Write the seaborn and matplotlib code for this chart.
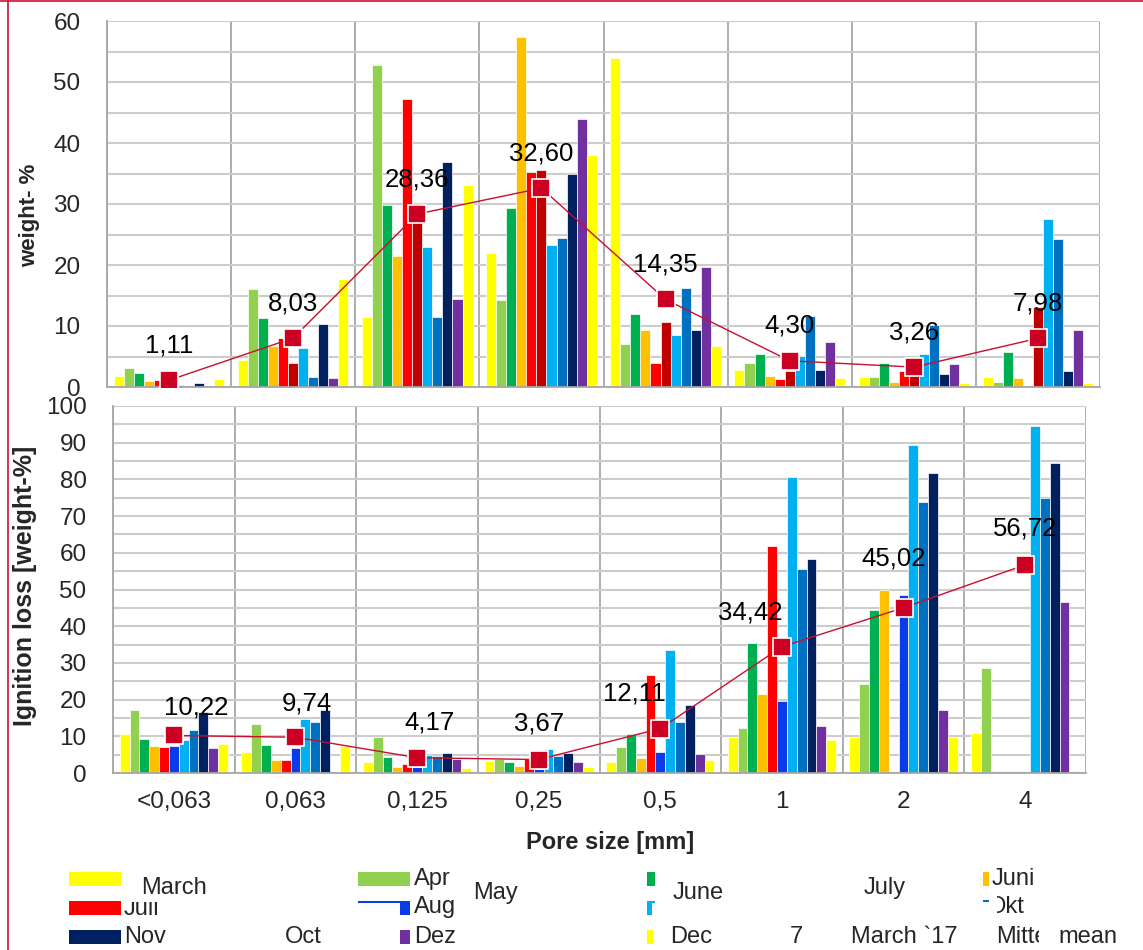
import numpy as np
import pandas as pd
import matplotlib
matplotlib.use("Agg")
import matplotlib.pyplot as plt
from matplotlib.patches import Rectangle
from matplotlib.lines import Line2D
from matplotlib.transforms import Bbox
import seaborn as sns

# ---------------------------------------------------------------- data
sizes = ["<0,063", "0,063", "0,125", "0,25", "0,5", "1", "2", "4"]
months = ["March", "Apr", "June", "Juni", "Juli", "Aug", "Sep", "Okt",
          "Nov", "Dez", "March `17"]

# weight-% per sieve fraction
w_march = [1.75, 4.4, 11.4, 22.0, 54.0, 2.8, 1.6, 1.6]
w_apr = [3.06, 16.1, 52.8, 14.3, 7.0, 4.0, 1.6, 0.9]
w_june = [2.35, 11.3, 29.8, 29.3, 12.0, 5.4, 3.9, 5.7]
w_juni = [0.93, 6.7, 21.4, 57.3, 9.3, 1.75, 0.9, 1.4]
w_juli = [1.1, 8.1, 47.2, 35.2, 4.0, 1.26, 2.7, 0.1]
w_aug = [0.9, 3.9, 30.2, 35.6, 10.7, 2.7, 1.9, 13.1]
w_sep = [0.4, 6.4, 22.9, 23.3, 8.5, 5.1, 5.4, 27.6]
w_okt = [0.1, 1.6, 11.4, 24.4, 16.2, 11.6, 10.1, 24.3]
w_nov = [0.7, 10.4, 36.9, 34.9, 9.3, 2.8, 2.2, 2.7]
w_dez = [0.1, 1.4, 14.4, 44.0, 19.6, 7.3, 3.7, 9.3]
w_march17 = [1.26, 17.7, 33.1, 38.0, 6.8, 1.5, 0.7, 0.7]
w_mean = [1.11, 8.03, 28.36, 32.60, 14.35, 4.30, 3.26, 7.98]

# ignition loss [weight-%] per sieve fraction (nan = not measured)
nan = np.nan
l_march = [10.6, 5.6, 2.9, 3.2, 2.9, 9.8, 9.8, 10.8]
l_apr = [17.1, 13.3, 9.8, 3.7, 7.0, 12.2, 24.2, 28.5]
l_june = [9.4, 7.5, 4.3, 3.1, 10.7, 35.5, 44.5, nan]
l_juni = [7.4, 3.6, 1.7, 1.9, 4.0, 21.6, 49.8, nan]
l_juli = [7.1, 3.6, 2.4, 3.7, 26.8, 61.8, nan, nan]
l_aug = [7.4, 6.9, 1.6, 1.2, 5.7, 19.5, 48.6, nan]
l_sep = [9.1, 14.8, 4.8, 6.5, 33.5, 80.7, 89.4, 94.5]
l_okt = [11.6, 13.9, 4.6, 4.6, 14.0, 55.5, 73.8, 74.8]
l_nov = [16.6, 17.1, 5.4, 5.5, 18.6, 58.3, 81.8, 84.5]
l_dez = [6.9, nan, 3.9, 2.9, 5.3, 12.8, 17.2, 46.5]
l_march17 = [7.9, 7.4, 1.4, 1.6, 3.5, 9.1, 9.7, nan]
l_mean = [10.22, 9.74, 4.17, 3.67, 12.11, 34.42, 45.02, 56.72]

weight_series = [w_march, w_apr, w_june, w_juni, w_juli, w_aug, w_sep,
                 w_okt, w_nov, w_dez, w_march17]
loss_series = [l_march, l_apr, l_june, l_juni, l_juli, l_aug, l_sep,
               l_okt, l_nov, l_dez, l_march17]

# ---------------------------------------------------------------- style
colors_top = ["#FFFF00", "#92D050", "#00B050", "#FFC000", "#FF0000", "#C00000",
              "#00B0F0", "#0070C0", "#002060", "#7030A0", "#FFFF00"]
colors_bot = ["#FFFF00", "#92D050", "#00B050", "#FFC000", "#FF0000", "#0A3BE8",
              "#00B0F0", "#0070C0", "#002060", "#7030A0", "#FFFF00"]
MEAN_LINE = "#C8102E"
MEAN_FACE = "#CC0022"
GRID_H = "#cccccc"
GRID_V = "#a6a6a6"

sns.set_style("white")
plt.rcParams["font.family"] = ["Liberation Sans", "DejaVu Sans"]

W, H = 1143, 950
fig = plt.figure(figsize=(W / 100, H / 100), dpi=100)


def fx(x):
    return x / W


def fy(y):
    return 1 - y / H


def long_frame(series):
    rows = []
    for m, vals in zip(months, series):
        for s, v in zip(sizes, vals):
            rows.append({"size": s, "month": m, "value": v})
    return pd.DataFrame(rows)


def draw_panel(ax, series, palette, means, ymax, offsets):
    df = long_frame(series)
    sns.barplot(data=df, x="size", y="value", hue="month", order=sizes,
                hue_order=months, palette=dict(zip(months, palette)),
                width=0.89, gap=0, saturation=1, errorbar=None,
                edgecolor="white", linewidth=0.5, legend=False, ax=ax)
    xs = np.arange(len(sizes))
    ax.plot(xs, means, color=MEAN_LINE, lw=1.0, marker="s", ms=13,
            mfc=MEAN_FACE, mec="white", mew=1.2, zorder=5)
    for x, m, (dx, dy) in zip(xs, means, offsets):
        ax.annotate(f"{m:.2f}".replace(".", ","), (x, m),
                    xytext=(dx / 1.389, dy / 1.389), textcoords="offset points",
                    ha="center", va="center", fontsize=18.5, color="black",
                    zorder=6)
    ax.set_xlim(-0.5, len(sizes) - 0.5)
    ax.set_ylim(0, ymax)
    ax.set_yticks(np.arange(0, ymax + 1, 10))
    ax.set_yticks(np.arange(0, ymax + 1, 5), minor=True)
    ax.set_xticks(np.arange(-0.5, len(sizes), 1), minor=True)
    ax.set_axisbelow(True)
    ax.grid(True, which="both", axis="y", color=GRID_H, lw=1.5)
    ax.grid(True, which="minor", axis="x", color=GRID_V, lw=1.3)
    for side in ("top", "right"):
        ax.spines[side].set_visible(False)
    for side in ("left", "bottom"):
        ax.spines[side].set_color(GRID_V)
        ax.spines[side].set_linewidth(1.3)
    ax.tick_params(axis="y", which="major", length=7, width=1.2,
                   color=GRID_V, pad=12, labelsize=17.5)
    ax.tick_params(axis="y", which="minor", length=0)
    ax.set_xlabel("")
    ax.set_ylabel("")


# ---------------------------------------------------------------- panels
ax1 = fig.add_axes([fx(107), fy(387), fx(1100 - 107), (387 - 21) / H])
draw_panel(ax1, weight_series, colors_top, w_mean, 60,
           [(0, 35)] * len(sizes))
ax1.tick_params(axis="x", which="both", length=0, labelbottom=False)
ax1.set_ylabel("weight- %", fontsize=16, fontweight="bold", va="center")
ax1.yaxis.set_label_coords(fx(30), fy(215), transform=fig.transFigure)

ax2 = fig.add_axes([fx(113), fy(773), fx(1086 - 113), (773 - 406) / H])
draw_panel(ax2, loss_series, colors_bot, l_mean, 100,
           [(22, 28), (11, 34), (12, 35), (0, 36), (-26, 35), (-32, 34),
            (-10, 49), (0, 36)])
ax2.tick_params(axis="x", which="major", length=0, pad=13, labelsize=17.5)
ax2.tick_params(axis="x", which="minor", length=7, width=1.2, color=GRID_V)
ax2.set_ylabel("Ignition loss [weight-%]", fontsize=18, fontweight="bold",
               va="center")
ax2.yaxis.set_label_coords(fx(25), fy(586), transform=fig.transFigure)
ax2.set_xlabel("Pore size [mm]", fontsize=17, fontweight="bold", va="center")
ax2.xaxis.set_label_coords(fx(610), fy(843), transform=fig.transFigure)

# ---------------------------------------------------------------- legend
def key(x0, y0, x1, y1, color):
    fig.patches.append(Rectangle((fx(x0), fy(y1)), fx(x1 - x0), (y1 - y0) / H,
                                 transform=fig.transFigure, facecolor=color,
                                 edgecolor="none"))


def label(x, y, s, clip=None):
    t = fig.text(fx(x), fy(y), s, ha="left", va="center", fontsize=17)
    if clip is not None:
        x0, y0, x1, y1 = clip
        t.set_clip_box(Bbox.from_extents(x0, H - y1, x1, H - y0))
        t.set_clip_on(True)
    return t


key(69, 872, 121, 886, "#FFFF00")
key(358, 872, 410, 886, "#92D050")
key(647, 872, 655, 886, "#00B050")
key(983, 872, 989, 886, "#FFC000")
key(69, 901, 121, 915, "#FF0000")
key(358, 901, 400, 903, "#0A3BE8")
key(400, 901, 410, 915, "#0A3BE8")
key(647, 901, 652, 915, "#00B0F0")
key(647, 901, 655, 903, "#00B0F0")
key(983, 900, 989, 902, "#0070C0")
key(69, 930, 121, 944, "#002060")
key(400, 930, 410, 944, "#7030A0")
key(647, 930, 653, 944, "#FFFF00")

label(141, 888, "March")
label(414, 879, "Apr", clip=(0, 0, 455, H))
label(473, 893, "May")
label(673, 893, "June")
label(864, 888, "July")
label(992, 879, "Juni", clip=(0, 0, 1041, H))
label(124, 909, "Juli", clip=(0, 902, W, H))
label(414, 907, "Aug", clip=(0, 0, 461, H))
label(988, 907, "Okt", clip=(997, 0, W, H))
label(124, 937, "Nov")
label(285, 937, "Oct")
label(414, 937, "Dez")
label(670, 937, "Dec")
label(790, 937, "7")
label(851, 937, "March `17")
label(996, 937, "Mitte", clip=(0, 0, 1039, H))
label(1058, 937, "mean")

# thin frame around the figure
fig.lines.append(Line2D([fx(8), fx(8)], [0, 1], transform=fig.transFigure,
                        color="#D0103A", lw=1.2))
fig.lines.append(Line2D([0, 1], [fy(0.7), fy(0.7)], transform=fig.transFigure,
                        color="#D0103A", lw=1.2))

fig.savefig("out.png", dpi=100)
